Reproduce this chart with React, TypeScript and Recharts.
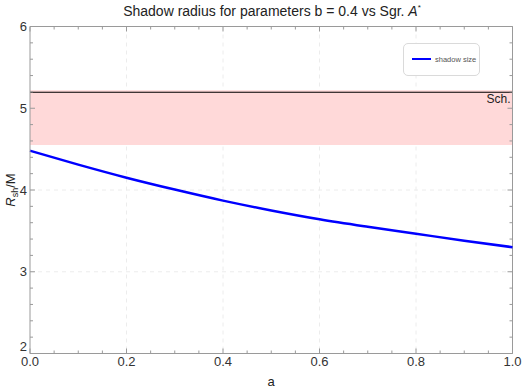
import React from "react";
import {
  CartesianGrid,
  ComposedChart,
  Legend,
  Line,
  ReferenceArea,
  ReferenceLine,
  XAxis,
  YAxis,
} from "recharts";

const spinValues = [0, 0.1, 0.2, 0.3, 0.4, 0.5, 0.6, 0.7, 0.8, 0.9, 1.0];
const shadowRadius = [4.48, 4.31, 4.15, 4.005, 3.87, 3.75, 3.642, 3.55, 3.465, 3.38, 3.3];

const xTicks = [
  0, 0.05, 0.1, 0.15, 0.2, 0.25, 0.3, 0.35, 0.4, 0.45, 0.5, 0.55, 0.6, 0.65,
  0.7, 0.75, 0.8, 0.85, 0.9, 0.95, 1.0,
];
const yTicks = [
  2, 2.2, 2.4, 2.6, 2.8, 3, 3.2, 3.4, 3.6, 3.8, 4, 4.2, 4.4, 4.6, 4.8, 5, 5.2,
  5.4, 5.6, 5.8, 6,
];
const xGrid = [0.2, 0.4, 0.6, 0.8];
const yGrid = [3, 4, 5];

// Sgr A* bounds and Schwarzschild value
const sgrBand = [4.55, 5.22];
const schwarzschild = 5.196;

const data = spinValues.map((a, i) => ({ a, r: shadowRadius[i] }));

const W = 523;
const H = 392;
const MARGIN = { top: 26.5, right: 10.5, bottom: 0, left: 0 };
const PLOT_TOP = MARGIN.top;
const PLOT_RIGHT = W - MARGIN.right;

const FONT = "'Liberation Sans', Arial, sans-serif";
const FRAME = "#9a9a9a";

const isMajorX = (v: number) => Math.abs(v * 5 - Math.round(v * 5)) < 1e-6;
const isMajorY = (v: number) => Math.abs(v - Math.round(v)) < 1e-6;

// frame ticks point inward on all four sides
function BottomTick(props: any) {
  const { x, y, payload } = props;
  const major = isMajorX(payload.value);
  const len = major ? 5 : 3;
  return (
    <g>
      <line x1={x} x2={x} y1={y} y2={y - len} stroke={FRAME} />
      <line x1={x} x2={x} y1={PLOT_TOP} y2={PLOT_TOP + len} stroke={FRAME} />
      {major && (
        <text x={x} y={y + 12.5} textAnchor="middle" fontSize={13} fill="#333" fontFamily={FONT}>
          {payload.value.toFixed(1)}
        </text>
      )}
    </g>
  );
}

function LeftTick(props: any) {
  const { x, y, payload } = props;
  const major = isMajorY(payload.value);
  const len = major ? 5 : 3;
  const bottom = payload.value === yTicks[0];
  return (
    <g>
      <line x1={x} x2={x + len} y1={y} y2={y} stroke={FRAME} />
      <line x1={PLOT_RIGHT} x2={PLOT_RIGHT - len} y1={y} y2={y} stroke={FRAME} />
      {major && (
        <text
          x={x - 3}
          y={bottom ? y - 3 : y + 4.5}
          textAnchor="end"
          fontSize={13}
          fill="#333"
          fontFamily={FONT}
        >
          {payload.value}
        </text>
      )}
    </g>
  );
}

function LegendBox() {
  return (
    <div
      style={{
        width: 77,
        height: 33,
        boxSizing: "border-box",
        border: "1px solid #dadada",
        borderRadius: 5,
        background: "#fff",
        display: "flex",
        alignItems: "center",
        paddingLeft: 8,
        fontFamily: FONT,
      }}
    >
      <svg width={20} height={4}>
        <line x1={0} x2={19} y1={2} y2={2} stroke="#0000ff" strokeWidth={2} />
      </svg>
      <span style={{ fontSize: 7.5, color: "#555", marginLeft: 3 }}>shadow size</span>
    </div>
  );
}

export default function App() {
  return (
    <div style={{ position: "absolute", left: 0, top: 0, width: W, height: H, background: "#fff" }}>
      <ComposedChart width={W} height={H} data={data} margin={MARGIN}>
        <CartesianGrid
          stroke="#ececec"
          strokeDasharray="4 4"
          verticalValues={xGrid}
          horizontalValues={yGrid}
        />
        <ReferenceArea
          y1={sgrBand[0]}
          y2={sgrBand[1]}
          fill="#ffd9d9"
          fillOpacity={1}
          stroke="none"
          ifOverflow="visible"
        />
        <ReferenceLine
          y={schwarzschild}
          stroke="#000"
          strokeWidth={1.2}
          label={{
            value: "Sch.",
            position: "insideTopRight",
            offset: 2,
            fontSize: 12,
            fill: "#222",
            fontFamily: FONT,
          }}
        />
        {/* top and right sides of the frame */}
        <ReferenceLine y={6} stroke={FRAME} ifOverflow="visible" />
        <ReferenceLine x={1} stroke={FRAME} ifOverflow="visible" />
        <XAxis
          dataKey="a"
          type="number"
          domain={[0, 1]}
          ticks={xTicks}
          interval={0}
          height={38.5}
          tickSize={0}
          tickMargin={0}
          tickLine={false}
          tick={<BottomTick />}
          axisLine={{ stroke: FRAME }}
        />
        <YAxis
          type="number"
          domain={[2, 6]}
          ticks={yTicks}
          interval={0}
          width={30}
          tickSize={0}
          tickMargin={0}
          tickLine={false}
          tick={<LeftTick />}
          axisLine={{ stroke: FRAME }}
        />
        <Legend
          layout="vertical"
          align="center"
          verticalAlign="middle"
          wrapperStyle={{ position: "absolute", left: 403, top: 42.5, width: 77 }}
          content={() => <LegendBox />}
        />
        <Line
          dataKey="r"
          type="monotone"
          stroke="#0000ff"
          strokeWidth={2.5}
          dot={false}
          isAnimationActive={false}
          name="shadow size"
        />
      </ComposedChart>
      <svg
        width={W}
        height={H}
        style={{ position: "absolute", left: 0, top: 0, pointerEvents: "none" }}
        fontFamily={FONT}
      >
        <text x={272} y={16} textAnchor="middle" fontSize={14} fill="#222">
          Shadow radius for parameters b = 0.4 vs Sgr.{" "}
          <tspan fontStyle="italic">A</tspan>
          <tspan fontSize={8} dy={-6}>*</tspan>
        </text>
        <text transform="translate(14.5,190) rotate(-90)" textAnchor="middle" fontSize={13} fill="#222">
          <tspan fontStyle="italic">R</tspan>
          <tspan fontSize={9} dy={3}>sh</tspan>
          <tspan dy={-3}>/M</tspan>
        </text>
        <text x={271} y={385.5} textAnchor="middle" fontSize={13} fill="#222">
          a
        </text>
      </svg>
    </div>
  );
}
